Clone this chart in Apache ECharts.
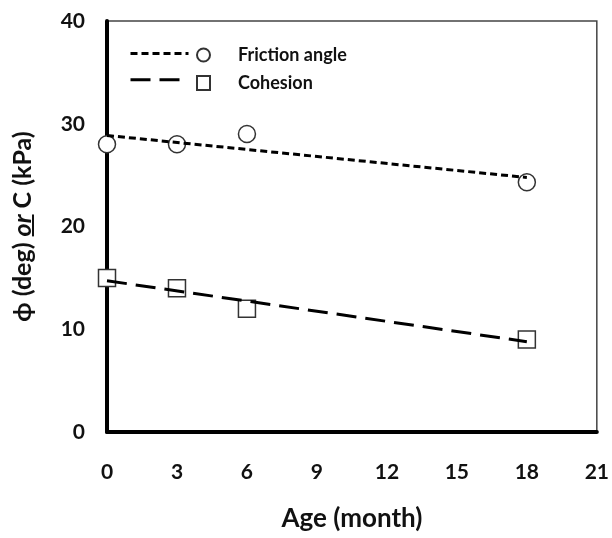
<!DOCTYPE html>
<html>
<head>
<meta charset="utf-8">
<script src="https://cdn.jsdelivr.net/npm/echarts@6/dist/echarts.min.js"></script>
<style>html,body{margin:0;padding:0;background:#fff}#c{width:612px;height:538px}</style>
</head>
<body>
<div id="c"></div>
<script>
// Data
const ageMonths = [0, 3, 6, 18];
const frictionAngle = [28, 28, 29, 24.3];
const cohesion = [15, 14, 12, 9];
// Linear trend end points (fitted lines drawn in the reference)
const frictionTrendX = [0, 18];
const frictionTrendY = [28.86, 24.77];
const cohesionTrendX = [0, 18];
const cohesionTrendY = [14.72, 8.79];
const xTicks = [0, 3, 6, 9, 12, 15, 18, 21];
const yTicks = [0, 10, 20, 30, 40];

const font = 'Lato, "Open Sans", sans-serif';
const pair = (xs, ys) => xs.map((x, i) => [x, ys[i]]);

// underline image for the "or" token of the y title
const TH = 28;
const ul = document.createElement('canvas');
ul.width = 4; ul.height = TH;
const uctx = ul.getContext('2d');
uctx.fillStyle = '#111';
uctx.fillRect(0, TH - 5, 4, 2);

const chart = echarts.init(document.getElementById('c'), null, {renderer: 'canvas'});
chart.setOption({
  backgroundColor: '#fff',
  animation: false,
  textStyle: {fontFamily: font},
  grid: {left: 107, right: 14, top: 21, bottom: 106, show: true, borderColor: '#444', borderWidth: 1.5, containLabel: false},
  legend: [
    {
      data: ['Friction trend', 'Cohesion trend'],
      left: 129, top: 48, orient: 'vertical', padding: 0,
      itemWidth: 58, itemHeight: 14, itemGap: 15,
      itemStyle: {color: 'rgba(0,0,0,0)', borderWidth: 0},
      lineStyle: {width: 3},
      formatter: () => '',
      textStyle: {fontSize: 1, lineHeight: 1}
    },
    {
      data: ['Friction angle', 'Cohesion'],
      left: 196, top: 46, orient: 'vertical', padding: 0,
      itemWidth: 13, itemHeight: 14, itemGap: 10,
      textStyle: {fontFamily: font, fontWeight: 'bold', fontSize: 18, lineHeight: 14, height: 14, color: '#111', padding: [0, 0, 0, 23]}
    }
  ],
  xAxis: {
    type: 'value', min: xTicks[0], max: xTicks[xTicks.length - 1], interval: 3,
    name: 'Age (month)', nameLocation: 'middle', nameGap: 74,
    nameTextStyle: {fontFamily: font, fontWeight: 'bold', fontSize: 26, color: '#111'},
    axisLine: {show: true, onZero: false, lineStyle: {color: '#000', width: 4}},
    axisTick: {show: false},
    splitLine: {show: false},
    axisLabel: {margin: 30, fontFamily: font, fontWeight: 'bold', fontSize: 21, color: '#111'}
  },
  yAxis: {
    type: 'value', min: yTicks[0], max: yTicks[yTicks.length - 1], interval: 10,
    name: '{a|ϕ (deg) }{b|or}{a| C (kPa)}', nameLocation: 'middle', nameGap: 70, nameRotate: 90,
    nameTextStyle: {
      rich: {
        a: {fontFamily: font, fontWeight: 'bold', fontSize: 25, lineHeight: TH, height: TH, color: '#111'},
        b: {fontFamily: font, fontWeight: 'bold', fontStyle: 'italic', fontSize: 25, lineHeight: TH, height: TH, color: '#111',
            backgroundColor: {image: ul}}
      }
    },
    axisLine: {show: true, onZero: false, lineStyle: {color: '#000', width: 4}},
    axisTick: {show: false},
    splitLine: {show: false},
    axisLabel: {margin: 22, fontFamily: font, fontWeight: 'bold', fontSize: 21, color: '#111'}
  },
  series: [
    {
      name: 'Friction angle', type: 'scatter', symbol: 'circle', symbolSize: 17, clip: false, z: 3,
      itemStyle: {color: '#fff', borderColor: '#333', borderWidth: 1.5, opacity: 1},
      data: pair(ageMonths, frictionAngle)
    },
    {
      name: 'Cohesion', type: 'scatter', symbol: 'rect', symbolSize: 17, clip: false, z: 3,
      itemStyle: {color: '#fff', borderColor: '#333', borderWidth: 1.5, opacity: 1},
      data: pair(ageMonths, cohesion)
    },
    {
      name: 'Friction trend', type: 'line', symbol: 'none', z: 4,
      lineStyle: {color: '#000', width: 3, type: [7, 4]},
      itemStyle: {color: '#000'},
      data: pair(frictionTrendX, frictionTrendY)
    },
    {
      name: 'Cohesion trend', type: 'line', symbol: 'none', z: 4,
      lineStyle: {color: '#000', width: 3, type: [20, 9]},
      itemStyle: {color: '#000'},
      data: pair(cohesionTrendX, cohesionTrendY)
    }
  ]
});
</script>
</body>
</html>
